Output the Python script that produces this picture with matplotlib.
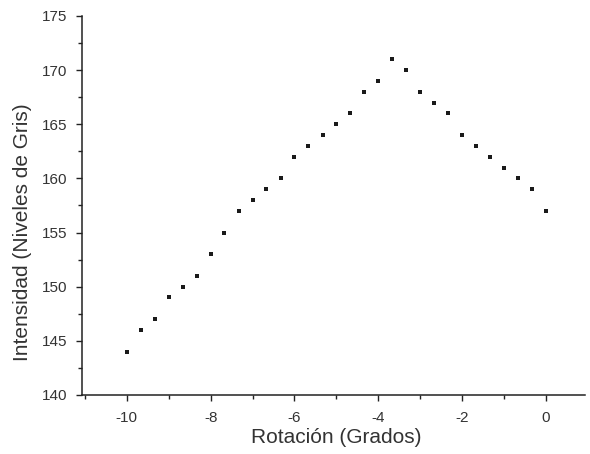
import matplotlib
matplotlib.use("Agg")
import matplotlib.pyplot as plt
from matplotlib.ticker import MultipleLocator

# Data
rotacion = [-10.0, -9.67, -9.33, -9.0, -8.67, -8.33, -8.0, -7.67, -7.33, -7.0,
            -6.67, -6.33, -6.0, -5.67, -5.33, -5.0, -4.67, -4.33, -4.0, -3.67,
            -3.33, -3.0, -2.67, -2.33, -2.0, -1.67, -1.33, -1.0, -0.67, -0.33, 0.0]
intensidad = [144, 146, 147, 149, 150, 151, 153, 155, 157, 158,
              159, 160, 162, 163, 164, 165, 166, 168, 169, 171,
              170, 168, 167, 166, 164, 163, 162, 161, 160, 159, 157]
x_ticks = [-10, -8, -6, -4, -2, 0]
y_ticks = [140, 145, 150, 155, 160, 165, 170, 175]
x_label = "Rotación (Grados)"
y_label = "Intensidad (Niveles de Gris)"

plt.rcParams['font.family'] = ['Liberation Sans', 'DejaVu Sans']
plt.rcParams['axes.unicode_minus'] = False

fig = plt.figure(figsize=(5.9, 4.54), dpi=100)
ax = fig.add_axes([0.139, 0.130, 0.853, 0.835])

ax.plot(rotacion, intensidad, linestyle='none', marker='s', markersize=2.2,
        color='#1a1a1a', markeredgewidth=0)

ax.set_xlim(-11.07, 0.94)
ax.set_ylim(140, 175)
ax.set_xticks(x_ticks)
ax.set_yticks(y_ticks)
ax.xaxis.set_minor_locator(MultipleLocator(1))
ax.yaxis.set_minor_locator(MultipleLocator(2.5))

for s in ('top', 'right'):
    ax.spines[s].set_visible(False)
for s in ('left', 'bottom'):
    ax.spines[s].set_linewidth(1.1)
    ax.spines[s].set_color('#222222')

ax.tick_params(axis='both', which='major', direction='out', length=4.5, width=1.0,
               colors='#222222', labelsize=11, labelcolor='#333333')
ax.tick_params(axis='both', which='minor', direction='out', length=2.6, width=1.0,
               colors='#222222')
ax.tick_params(axis='y', which='major', pad=6)
ax.tick_params(axis='x', which='major', pad=7)

ax.set_xlabel(x_label, fontsize=15, color='#333333')
ax.set_ylabel(y_label, fontsize=15, color='#333333')
ax.xaxis.set_label_coords(0.505, -0.087)
ax.yaxis.set_label_coords(-0.099, 0.429)

fig.savefig("out.png", dpi=100, facecolor='white')
